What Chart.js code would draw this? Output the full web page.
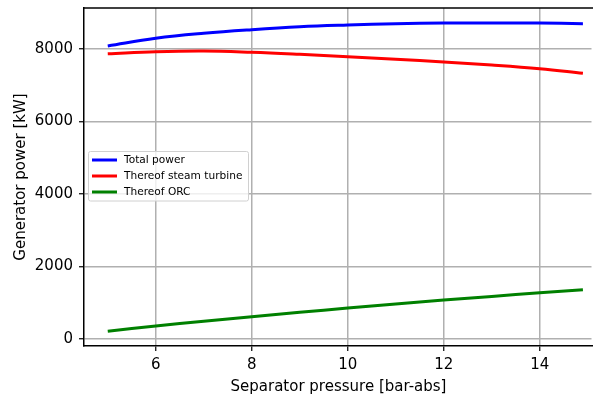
<!DOCTYPE html>
<html><head><meta charset="utf-8">
<script src="https://cdn.jsdelivr.net/npm/chart.js@4.4.0/dist/chart.umd.min.js"></script>
<style>html,body{margin:0;padding:0;background:#fff;overflow:hidden;}#wrap{width:593px;height:396px;}</style>
</head><body><div id="wrap"><canvas id="c" width="593" height="396"></canvas></div>
<script>
const pressure = [5, 6, 7, 8, 9, 10, 11, 12, 13, 14, 14.9];
const totalPower = [8085, 8295, 8433, 8533, 8612, 8660, 8695, 8715, 8720, 8715, 8698];
const steamTurbine = [7870, 7926, 7945, 7910, 7853, 7785, 7716, 7642, 7559, 7457, 7330];
const orcPower = [213, 360, 488, 615, 735, 855, 965, 1073, 1175, 1275, 1360];
const seriesLabels = ['Total power', 'Thereof steam turbine', 'Thereof ORC'];
const xTicks = [6, 8, 10, 12, 14];
const yTicks = [0, 2000, 4000, 6000, 8000];

const FONT = 'DejaVu Sans';
const pts = arr => pressure.map((p, i) => ({x: p, y: arr[i]}));
const onTick = list => c => (c.tick && list.includes(c.tick.value));

const spines = {
  id: 'spines',
  afterDraw(chart) {
    const a = chart.chartArea, ctx = chart.ctx;
    ctx.save();
    // the axes box is cut off on the right in the reference: no right spine
    ctx.fillStyle = '#fff';
    ctx.fillRect(chart.width - 1.5, a.top, 1.5, a.bottom - a.top - 1);
    ctx.strokeStyle = '#000'; ctx.lineWidth = 1.5;
    ctx.beginPath(); ctx.moveTo(a.left - 0.75, a.top); ctx.lineTo(a.right + 2, a.top); ctx.stroke();
    // legend
    const x0 = 88.5, y0 = 151.5, w = 160, h = 49.5;
    ctx.fillStyle = 'rgba(255,255,255,0.8)';
    ctx.strokeStyle = '#d0d0d0'; ctx.lineWidth = 1;
    ctx.beginPath();
    if (ctx.roundRect) ctx.roundRect(x0, y0, w, h, 2); else ctx.rect(x0, y0, w, h);
    ctx.fill(); ctx.stroke();
    ctx.font = '10.6px "' + FONT + '"';
    ctx.textBaseline = 'middle';
    chart.data.datasets.forEach((ds, i) => {
      const y = 160 + i * 16;
      ctx.strokeStyle = ds.borderColor; ctx.lineWidth = 3;
      ctx.beginPath(); ctx.moveTo(92, y); ctx.lineTo(117, y); ctx.stroke();
      ctx.fillStyle = '#000';
      ctx.fillText(ds.label, 124, y + 0.5);
    });
    ctx.restore();
  }
};

new Chart(document.getElementById('c'), {
  type: 'line',
  data: {
    datasets: [
      {label: seriesLabels[0], data: pts(totalPower), borderColor: '#0000ff'},
      {label: seriesLabels[1], data: pts(steamTurbine), borderColor: '#ff0000'},
      {label: seriesLabels[2], data: pts(orcPower), borderColor: '#008000'}
    ].map(d => Object.assign(d, {borderWidth: 3, pointRadius: 0, tension: 0.4, fill: false}))
  },
  options: {
    responsive: false, animation: false,
    layout: {padding: {left: 0, right: 0, top: 8, bottom: 0}},
    plugins: {legend: {display: false}, tooltip: {enabled: false}},
    scales: {
      x: {
        type: 'linear', min: 4.505, max: 15.11,
        afterBuildTicks: s => { s.ticks = xTicks.map(v => ({value: v})); },
        afterFit: s => { s.height = 50; s.paddingLeft = 0; s.paddingRight = 0; },
        grid: {
          color: c => onTick(xTicks)(c) ? '#b0b0b0' : 'rgba(0,0,0,0)',
          tickColor: c => onTick(xTicks)(c) ? '#000' : 'rgba(0,0,0,0)',
          lineWidth: 1.5, tickLength: 5, tickWidth: 1.2
        },
        border: {color: '#000', width: 1.5},
        ticks: {font: {family: FONT, size: 15}, color: '#000', padding: 5, maxRotation: 0, callback: v => String(v)},
        title: {display: true, text: 'Separator pressure [bar-abs]', font: {family: FONT, size: 15}, color: '#000', padding: {top: 0, bottom: 0}}
      },
      y: {
        type: 'linear', min: -193, max: 9131,
        afterBuildTicks: s => { s.ticks = yTicks.map(v => ({value: v})); },
        afterFit: s => { s.width = 84; s.paddingTop = 0; s.paddingBottom = 0; },
        grid: {color: '#b0b0b0', lineWidth: 1.5, tickLength: 5, tickColor: '#000', tickWidth: 1.2},
        border: {color: '#000', width: 1.5},
        ticks: {font: {family: FONT, size: 15}, color: '#000', padding: 6, callback: v => String(v)},
        title: {display: true, text: 'Generator power [kW]', font: {family: FONT, size: 15}, color: '#000', padding: {top: 12, bottom: 4}}
      }
    }
  },
  plugins: [spines]
});
</script></body></html>
